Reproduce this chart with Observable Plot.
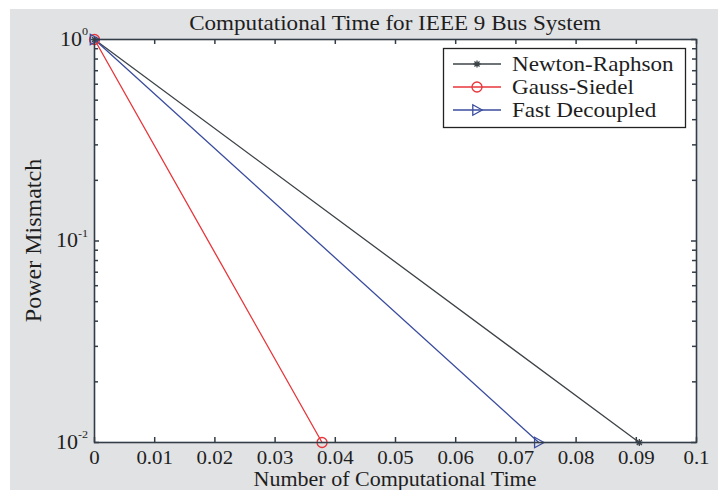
<!DOCTYPE html>
<html><head><meta charset="utf-8">
<script src="https://cdn.jsdelivr.net/npm/d3@7"></script>
<script src="https://cdn.jsdelivr.net/npm/@observablehq/plot@0.6"></script>
<style>
html,body{margin:0;padding:0;background:#fff;}
#wrap{position:relative;width:718px;height:490px;overflow:hidden;}
#bg{position:absolute;left:10px;top:9px;right:0;bottom:0;background:#e1e2e4;}
#chart{position:absolute;left:0;top:0;}
</style></head><body>
<div id="wrap"><div id="bg"></div><div id="chart"></div></div>
<script>
// ---- data ----
const methods = ["Newton-Raphson", "Gauss-Siedel", "Fast Decoupled"];
const nrTime = [0, 0.0905];
const nrMismatch = [1, 0.01];
const gsTime = [0, 0.0378];
const gsMismatch = [1, 0.01];
const fdTime = [0, 0.0738];
const fdMismatch = [1, 0.01];
const xTicks = [0, 0.01, 0.02, 0.03, 0.04, 0.05, 0.06, 0.07, 0.08, 0.09, 0.1];
const xTickLabels = ["0", "0.01", "0.02", "0.03", "0.04", "0.05", "0.06", "0.07", "0.08", "0.09", "0.1"];
const yMajor = [0.01, 0.1, 1];
const yMajorExp = ["-2", "-1", "0"];
const yMinor = [0.02, 0.03, 0.04, 0.05, 0.06, 0.07, 0.08, 0.09, 0.2, 0.3, 0.4, 0.5, 0.6, 0.7, 0.8, 0.9];
const titleText = "Computational Time for IEEE 9 Bus System";
const xLabel = "Number of Computational Time";
const yLabel = "Power Mismatch";

// ---- layout & styles ----
const W = 718, H = 490, ML = 94, MR = 22, MT = 39, MB = 48;
const PW = W - ML - MR, PH = H - MT - MB;
const colors = ["#3d4448", "#e8353a", "#3a4c9e"];
const axisColor = "#323d47";
const textColor = "#1e1e1e";
const FONT = "Liberation Serif, Times New Roman, serif";
const STRETCH = 1.1;

const rows = (name, t, m) => t.map((v, i) => ({method: name, time: v, mismatch: m[i]}));
const series = [rows(methods[0], nrTime, nrMismatch), rows(methods[1], gsTime, gsMismatch), rows(methods[2], fdTime, fdMismatch)];

const triRight = {draw(ctx, size) { const r = Math.sqrt(size / Math.PI) * 1.05; ctx.moveTo(r, 0); ctx.lineTo(-r * 0.8, -r); ctx.lineTo(-r * 0.8, r); ctx.closePath(); }};
const star = {draw(ctx, size) { const r = Math.sqrt(size / Math.PI); for (let k = 0; k < 4; k++) { const a = k * Math.PI / 4; ctx.moveTo(-r * Math.cos(a), -r * Math.sin(a)); ctx.lineTo(r * Math.cos(a), r * Math.sin(a)); } }};
const symbols = [star, "circle", triRight];
const symR = [3.6, 5, 5];

const tk = {stroke: axisColor, strokeWidth: 1.5};
const MAJ = 5, MIN = 4;

const plot = Plot.plot({
  width: W, height: H,
  marginLeft: ML, marginRight: MR, marginTop: MT, marginBottom: MB,
  x: {domain: [0, 0.1], axis: null},
  y: {type: "log", domain: [0.01, 1], axis: null},
  style: {background: "transparent", fontFamily: FONT, fontSize: "19px", color: textColor, overflow: "visible"},
  marks: [
    Plot.frame({fill: "white"}),
    // inward ticks
    Plot.tickX(xTicks, {x: d => d, insetTop: PH - MAJ, ...tk}),
    Plot.tickX(xTicks, {x: d => d, insetBottom: PH - MAJ, ...tk}),
    Plot.tickY(yMajor, {y: d => d, insetRight: PW - MAJ, ...tk}),
    Plot.tickY(yMajor, {y: d => d, insetLeft: PW - MAJ, ...tk}),
    Plot.tickY(yMinor, {y: d => d, insetRight: PW - MIN, ...tk}),
    Plot.tickY(yMinor, {y: d => d, insetLeft: PW - MIN, ...tk}),
    ...series.map((s, i) => Plot.line(s, {x: "time", y: "mismatch", stroke: colors[i], strokeWidth: 1.3})),
    ...series.map((s, i) => Plot.dot(s, {x: "time", y: "mismatch", symbol: () => symbols[i], r: symR[i], stroke: colors[i], fill: "none", strokeWidth: 1.3})),
    Plot.text(xTicks, {x: d => d, frameAnchor: "bottom", text: (d, i) => xTickLabels[i], dy: 15, lineAnchor: "middle", fill: textColor}),
    Plot.frame({stroke: axisColor, strokeWidth: 1.6})
  ]
});
document.getElementById("chart").appendChild(plot);

const svg = d3.select(plot);
const ys = plot.scale("y");
// y tick labels with superscript exponents
yMajor.forEach((v, i) => {
  const t = svg.append("text")
    .attr("transform", `translate(88,${ys.apply(v)})`)
    .attr("text-anchor", "end").attr("font-family", FONT).attr("font-size", 20).attr("fill", textColor)
    .attr("dy", "0.33em");
  t.append("tspan").text("10");
  t.append("tspan").attr("font-size", 11).attr("dy", "-0.95em").text(yMajorExp[i]);
});
// title and axis labels
svg.append("text").attr("transform", `translate(${ML + PW / 2},30)`).attr("text-anchor", "middle")
  .attr("font-family", FONT).attr("font-size", 21).attr("fill", textColor).text(titleText);
svg.append("text").attr("transform", `translate(${ML + PW / 2},486)`).attr("text-anchor", "middle")
  .attr("font-family", FONT).attr("font-size", 20).attr("fill", textColor).text(xLabel);
svg.append("text").attr("class", "nostretch").attr("transform", `translate(33,${MT + PH / 2}) rotate(-90)`).attr("text-anchor", "middle")
  .attr("dy", "0.35em").attr("font-family", FONT).attr("font-size", 24).attr("fill", textColor).text(yLabel);

// legend
const lg = svg.append("g");
lg.append("rect").attr("x", 443.5).attr("y", 48.5).attr("width", 242).attr("height", 79)
  .attr("fill", "white").attr("stroke", "#222").attr("stroke-width", 1.3);
const rowY = [64, 87, 110];
methods.forEach((m, i) => {
  const y = rowY[i];
  lg.append("line").attr("x1", 453).attr("x2", 501).attr("y1", y).attr("y2", y)
    .attr("stroke", colors[i]).attr("stroke-width", 1.3);
  const type = typeof symbols[i] === "string" ? d3.symbolCircle : symbols[i];
  lg.append("path").attr("d", d3.symbol(type, Math.PI * symR[i] * symR[i])())
    .attr("transform", `translate(477,${y})`).attr("fill", "none")
    .attr("stroke", colors[i]).attr("stroke-width", 1.3);
  lg.append("text").attr("transform", `translate(512,${y})`).attr("dy", "0.33em").attr("text-anchor", "start")
    .attr("font-family", FONT).attr("font-size", 21).attr("fill", textColor).text(m);
});

// horizontal stretch of text around each text's anchor
plot.querySelectorAll("text:not(.nostretch)").forEach(t => {
  const x = t.getAttribute("x") || 0;
  t.removeAttribute("x");
  const tr = t.getAttribute("transform") || "";
  t.setAttribute("transform", `${tr} translate(${x},0) scale(${STRETCH},1)`);
});
</script>
</body></html>
